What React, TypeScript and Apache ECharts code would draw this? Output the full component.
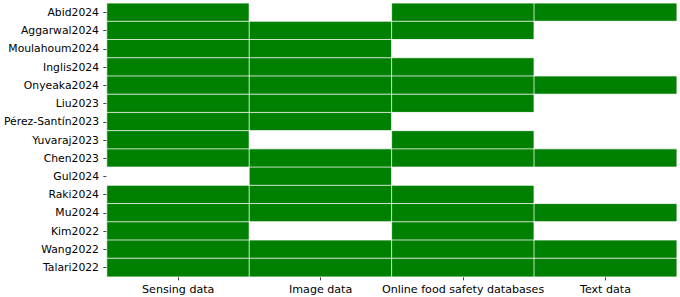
import React, { useEffect, useRef } from "react";
import * as echarts from "echarts";

const studies = [
  "Abid2024", "Aggarwal2024", "Moulahoum2024", "Inglis2024", "Onyeaka2024",
  "Liu2023", "Pérez-Santín2023", "Yuvaraj2023", "Chen2023", "Gul2024",
  "Raki2024", "Mu2024", "Kim2022", "Wang2022", "Talari2022",
];
const dataTypes = ["Sensing data", "Image data", "Online food safety databases", "Text data"];

// one row per study, columns follow dataTypes (1 = used, 0 = not used)
const sensing = [1, 1, 1, 1, 1, 1, 1, 1, 1, 0, 1, 1, 1, 1, 1];
const image = [0, 1, 1, 1, 1, 1, 1, 0, 1, 1, 1, 1, 0, 1, 1];
const online = [1, 1, 0, 1, 1, 1, 0, 1, 1, 0, 1, 1, 1, 1, 1];
const text = [1, 0, 0, 0, 1, 0, 0, 0, 1, 0, 0, 1, 0, 1, 1];

export default function App() {
  const ref = useRef<HTMLDivElement>(null);
  useEffect(() => {
    if (!ref.current) return;
    const chart = echarts.init(ref.current, null, { renderer: "svg" });
    const cols = [sensing, image, online, text];
    const data: [number, number, number][] = [];
    cols.forEach((col, ci) => col.forEach((v, ri) => data.push([ci, ri, v])));
    const font = "DejaVu Sans";
    const tick = { show: true, alignWithLabel: true, length: 3.7, lineStyle: { color: "#222", width: 0.86 } };
    chart.setOption({
      animation: false,
      grid: { left: 107, right: 3.3, top: 3.3, bottom: 20.3, outerBoundsMode: "none", containLabel: false },
      xAxis: {
        type: "category",
        data: dataTypes,
        axisLine: { show: false },
        axisTick: tick,
        axisLabel: { color: "#000", fontFamily: font, fontSize: 11.1, margin: 7.5, interval: 0 },
        splitLine: { show: false },
      },
      yAxis: {
        type: "category",
        data: studies,
        inverse: true,
        axisLine: { show: false },
        axisTick: tick,
        axisLabel: { color: "#000", fontFamily: font, fontSize: 10.8, margin: 8, interval: 0 },
        splitLine: { show: false },
      },
      visualMap: {
        show: false,
        type: "piecewise",
        dimension: 2,
        pieces: [
          { value: 0, color: "#ffffff" },
          { value: 1, color: "#008000" },
        ],
      },
      series: [
        {
          type: "heatmap",
          data,
          itemStyle: { borderColor: "rgba(255,255,255,0.75)", borderWidth: 1 },
          emphasis: { disabled: true },
        },
      ],
    });
    return () => chart.dispose();
  }, []);
  return <div ref={ref} style={{ width: 680, height: 297, position: "absolute", left: 0, top: 0 }} />;
}
